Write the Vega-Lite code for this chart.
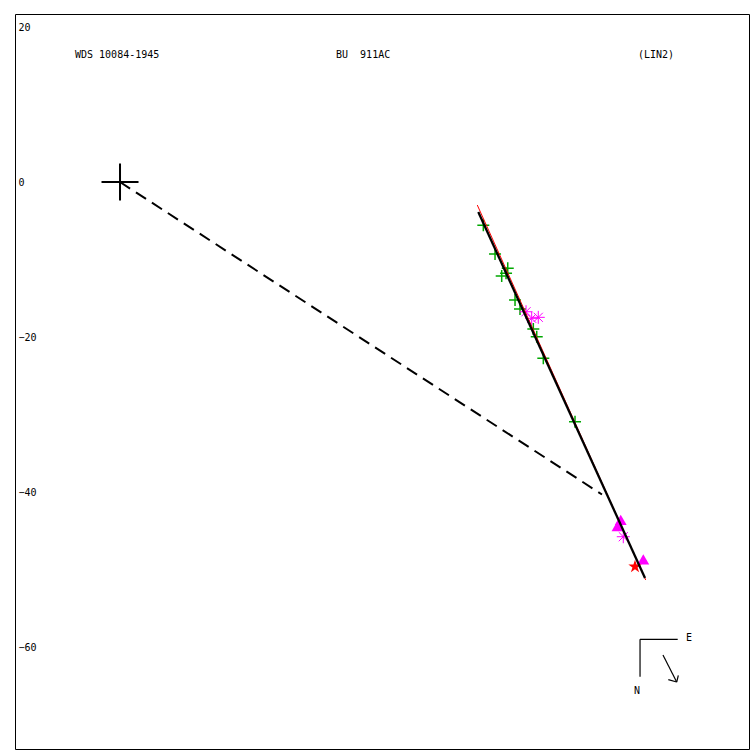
{
  "$schema": "https://vega.github.io/schema/vega-lite/v6.json",
  "width": 734,
  "height": 735,
  "autosize": {"type": "none"},
  "padding": {"left": 15, "top": 14, "right": 1, "bottom": 1},
  "background": "white",
  "config": {
    "view": {"stroke": "black", "strokeWidth": 1},
    "text": {"font": "DejaVu Sans Mono", "fontSize": 10, "color": "black"}
  },
  "layer": [
    {
      "data": {"values": [
        {"x": 46.88, "y": -5.59}, {"x": 48.39, "y": -9.29}, {"x": 50.03, "y": -11.14},
        {"x": 49.25, "y": -12.13}, {"x": 49.81, "y": -11.78}, {"x": 50.97, "y": -15.23},
        {"x": 51.61, "y": -16.39}, {"x": 53.33, "y": -18.97}, {"x": 53.77, "y": -19.96},
        {"x": 54.62, "y": -22.75}, {"x": 58.71, "y": -30.93}
      ]},
      "mark": {"type": "point", "shape": "M-1,0H1M0,-1V1", "size": 144, "stroke": "#00a800", "strokeWidth": 1.5, "filled": false, "opacity": 1},
      "encoding": {
        "x": {"field": "x", "type": "quantitative", "scale": {"domain": [-13.55, 81.16], "nice": false, "zero": false}, "axis": null},
        "y": {"field": "y", "type": "quantitative", "scale": {"domain": [-73.16, 21.68], "nice": false, "zero": false},
          "axis": {"values": [20, 0, -20, -40, -60], "ticks": false, "tickSize": 0, "domain": false, "grid": false, "title": null,
            "labelAlign": "left", "labelPadding": -3, "labelFont": "DejaVu Sans Mono", "labelFontSize": 10, "labelColor": "black", "labelBaseline": "middle"}}
      }
    },
    {
      "data": {"values": [
        {"x": 52.39, "y": -16.74}, {"x": 53.12, "y": -17.59}, {"x": 53.97, "y": -17.46}, {"x": 64.94, "y": -45.77}
      ]},
      "mark": {"type": "point", "shape": "M-1,0H1M0,-1V1M-0.7,-0.7L0.7,0.7M-0.7,0.7L0.7,-0.7", "size": 169, "stroke": "#ff00ff", "strokeWidth": 1, "filled": false, "opacity": 1},
      "encoding": {
        "x": {"field": "x", "type": "quantitative"},
        "y": {"field": "y", "type": "quantitative"}
      }
    },
    {
      "data": {"values": [
        {"x": 64.61, "y": -43.6}, {"x": 64.19, "y": -44.4}, {"x": 67.52, "y": -48.7}
      ]},
      "mark": {"type": "point", "shape": "triangle-up", "size": 140, "fill": "#ff00ff", "filled": true, "strokeWidth": 0, "opacity": 1},
      "encoding": {
        "x": {"field": "x", "type": "quantitative"},
        "y": {"field": "y", "type": "quantitative"}
      }
    },
    {
      "data": {"values": [{"x": 66.45, "y": -49.63}]},
      "mark": {"type": "point", "shape": "M0,-1L0.225,-0.309L0.951,-0.309L0.363,0.118L0.588,0.809L0,0.382L-0.588,0.809L-0.363,0.118L-0.951,-0.309L-0.225,-0.309Z", "size": 196, "fill": "#ff0000", "filled": true, "strokeWidth": 0, "opacity": 1},
      "encoding": {
        "x": {"field": "x", "type": "quantitative"},
        "y": {"field": "y", "type": "quantitative"}
      }
    },
    {
      "data": {"values": [{"x": 46.10, "y": -2.97, "x2": 67.83, "y2": -51.35}]},
      "mark": {"type": "rule", "color": "#ff0000", "strokeWidth": 1},
      "encoding": {
        "x": {"field": "x", "type": "quantitative"},
        "y": {"field": "y", "type": "quantitative"},
        "x2": {"field": "x2"},
        "y2": {"field": "y2"}
      }
    },
    {
      "data": {"values": [{"x": 46.23, "y": -3.87, "x2": 67.74, "y2": -51.10}]},
      "mark": {"type": "rule", "color": "black", "strokeWidth": 2.3},
      "encoding": {
        "x": {"field": "x", "type": "quantitative"},
        "y": {"field": "y", "type": "quantitative"},
        "x2": {"field": "x2"},
        "y2": {"field": "y2"}
      }
    },
    {
      "data": {"values": [{"x": 0, "y": 0, "x2": 62.19, "y2": -40.32}]},
      "mark": {"type": "rule", "color": "black", "strokeWidth": 2, "strokeDash": [12, 7]},
      "encoding": {
        "x": {"field": "x", "type": "quantitative"},
        "y": {"field": "y", "type": "quantitative"},
        "x2": {"field": "x2"},
        "y2": {"field": "y2"}
      }
    },
    {
      "data": {"values": [{"x": 0, "y": 0}]},
      "mark": {"type": "point", "shape": "M-1,0H1M0,-1V1", "size": 1369, "stroke": "black", "strokeWidth": 2, "filled": false, "opacity": 1},
      "encoding": {
        "x": {"field": "x", "type": "quantitative"},
        "y": {"field": "y", "type": "quantitative"}
      }
    },
    {
      "data": {"values": [
        {"x": 67.10, "y": -59.01, "x2": 71.96, "y2": -59.01},
        {"x": 67.10, "y": -59.01, "x2": 67.10, "y2": -63.83},
        {"x": 70.06, "y": -61.03, "x2": 71.83, "y2": -64.52},
        {"x": 70.75, "y": -64.21, "x2": 71.83, "y2": -64.52},
        {"x": 72.04, "y": -63.66, "x2": 71.83, "y2": -64.52}
      ]},
      "mark": {"type": "rule", "color": "black", "strokeWidth": 1.2},
      "encoding": {
        "x": {"field": "x", "type": "quantitative"},
        "y": {"field": "y", "type": "quantitative"},
        "x2": {"field": "x2"},
        "y2": {"field": "y2"}
      }
    },
    {
      "data": {"values": [
        {"x": -5.81, "y": 16.39, "label": "WDS 10084-1945"},
        {"x": 27.87, "y": 16.39, "label": "BU\u00a0 911AC"},
        {"x": 66.84, "y": 16.39, "label": "(LIN2)"},
        {"x": 73.03, "y": -58.88, "label": "E"}
      ]},
      "mark": {"type": "text", "align": "left", "baseline": "middle"},
      "encoding": {
        "x": {"field": "x", "type": "quantitative"},
        "y": {"field": "y", "type": "quantitative"},
        "text": {"field": "label"}
      }
    },
    {
      "data": {"values": [{"x": 66.71, "y": -65.68, "label": "N"}]},
      "mark": {"type": "text", "align": "center", "baseline": "middle"},
      "encoding": {
        "x": {"field": "x", "type": "quantitative"},
        "y": {"field": "y", "type": "quantitative"},
        "text": {"field": "label"}
      }
    }
  ]
}
